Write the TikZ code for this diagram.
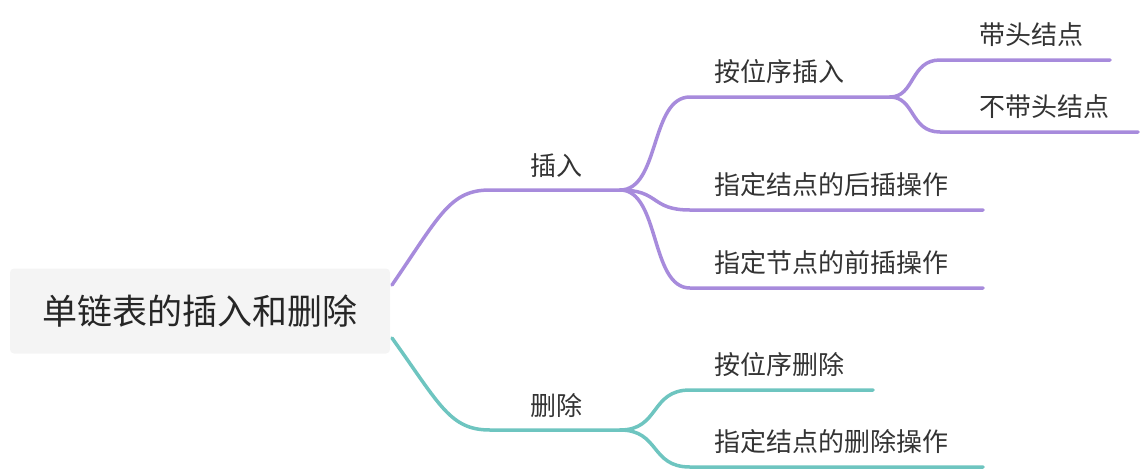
\documentclass[tikz,border=0pt]{standalone}
\usepackage{fontspec}
\setmainfont{Noto Sans CJK SC}
\definecolor{ins}{HTML}{A78BDC}
\definecolor{del}{HTML}{6EC5C0}
\definecolor{rootbg}{HTML}{F4F4F4}
\tikzset{
  topic/.style={font=\fontsize{26}{30}\selectfont, text=black!80, anchor=south west, inner sep=2pt},
  branch/.style={line width=3.5pt, line cap=round},
}
\begin{document}
\begin{tikzpicture}[x=1pt,y=-1pt]
\useasboundingbox (0,0) rectangle (1146,472);
\node[fill=rootbg, rounded corners=4pt, minimum width=380pt, minimum height=85pt, font=\fontsize{35}{40}\selectfont, text=black!85] (root) at (200,311) {单链表的插入和删除};

% insert branch
\coordinate (r1) at (392,285);
\coordinate (i0) at (490,190);
\coordinate (i1) at (620,190);
\node[topic] (ins) at (528,180) {插入};
\draw[branch, ins] (r1) .. controls (440,215) and (450,190) .. (i0) -- (i1);

\coordinate (a0) at (690,97);  \coordinate (a1) at (890,97);
\coordinate (b0) at (690,210); \coordinate (b1) at (983,210);
\coordinate (c0) at (690,288); \coordinate (c1) at (983,288);
\node[topic] (pos) at (712,86) {按位序插入};
\node[topic] (after) at (712,199) {指定结点的后插操作};
\node[topic] (before) at (712,277) {指定节点的前插操作};
\draw[branch, ins] (i1) .. controls (660,190) and (650,97) .. (a0) -- (a1);
\draw[branch, ins] (i1) .. controls (660,190) and (650,210) .. (b0) -- (b1);
\draw[branch, ins] (i1) .. controls (660,190) and (650,288) .. (c0) -- (c1);

\coordinate (d0) at (940,60);  \coordinate (d1) at (1110,60);
\coordinate (e0) at (940,132); \coordinate (e1) at (1138,132);
\node[topic] (head) at (977,49) {带头结点};
\node[topic] (nohead) at (977,121) {不带头结点};
\draw[branch, ins] (a1) .. controls (915,97) and (910,60) .. (d0) -- (d1);
\draw[branch, ins] (a1) .. controls (915,97) and (910,132) .. (e0) -- (e1);

% delete branch
\coordinate (r2) at (392,338);
\coordinate (j0) at (490,430);
\coordinate (j1) at (620,430);
\node[topic] (del) at (528,420) {删除};
\draw[branch, del] (r2) .. controls (440,405) and (450,430) .. (j0) -- (j1);

\coordinate (f0) at (690,390); \coordinate (f1) at (873,390);
\coordinate (g0) at (690,467); \coordinate (g1) at (983,467);
\node[topic] (posdel) at (712,379) {按位序删除};
\node[topic] (nodedel) at (712,456) {指定结点的删除操作};
\draw[branch, del] (j1) .. controls (660,430) and (650,390) .. (f0) -- (f1);
\draw[branch, del] (j1) .. controls (660,430) and (650,467) .. (g0) -- (g1);
\end{tikzpicture}
\end{document}
